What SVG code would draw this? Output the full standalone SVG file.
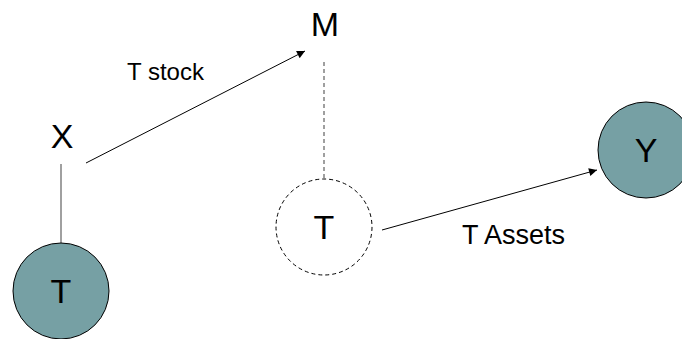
<svg xmlns="http://www.w3.org/2000/svg" width="682" height="339" viewBox="0 0 682 339">
  <style>
    .big { font-family: "Liberation Sans", Arial, sans-serif; font-size: 34px; fill: #000; text-anchor: middle; }
    .lbl { font-family: "Liberation Sans", Arial, sans-serif; fill: #000; }
    .solid { fill: #76a0a4; stroke: #000; stroke-width: 1; }
    .dashed { fill: #fff; stroke: #000; stroke-width: 1; stroke-dasharray: 4 3; }
    .edge { stroke: #000; stroke-width: 1; fill: none; }
  </style>
  <defs>
    <marker id="arrow" viewBox="0 0 10 10" refX="10" refY="5" markerWidth="10" markerHeight="8" markerUnits="userSpaceOnUse" orient="auto">
      <path d="M0,0 L10,5 L0,10 z" fill="#000"/>
    </marker>
  </defs>
  <rect width="682" height="339" fill="#fff"/>

  <g id="connectors">
    <line x1="61" y1="164" x2="61" y2="243" stroke="#808080" stroke-width="1.5"/>
    <line x1="324" y1="62" x2="324" y2="178" stroke="#808080" stroke-width="1.5" stroke-dasharray="4 3"/>
    <line class="edge" x1="86" y1="163" x2="305" y2="51" marker-end="url(#arrow)"/>
    <line class="edge" x1="382" y1="230" x2="597" y2="170" marker-end="url(#arrow)"/>
    <text class="lbl" x="127" y="80" font-size="24">T stock</text>
    <text class="lbl" x="462" y="244" font-size="27">T Assets</text>
  </g>

  <g id="node-m">
    <text class="big" x="325" y="36">M</text>
  </g>
  <g id="node-x">
    <text class="big" x="62" y="148">X</text>
  </g>
  <g id="node-t-bottom">
    <circle class="solid" cx="61" cy="291" r="48"/>
    <text class="big" x="61" y="303">T</text>
  </g>
  <g id="node-t-mid">
    <circle class="dashed" cx="324" cy="227" r="48"/>
    <text class="big" x="324" y="239">T</text>
  </g>
  <g id="node-y">
    <circle class="solid" cx="646" cy="150" r="48"/>
    <text class="big" x="646" y="162">Y</text>
  </g>
</svg>
